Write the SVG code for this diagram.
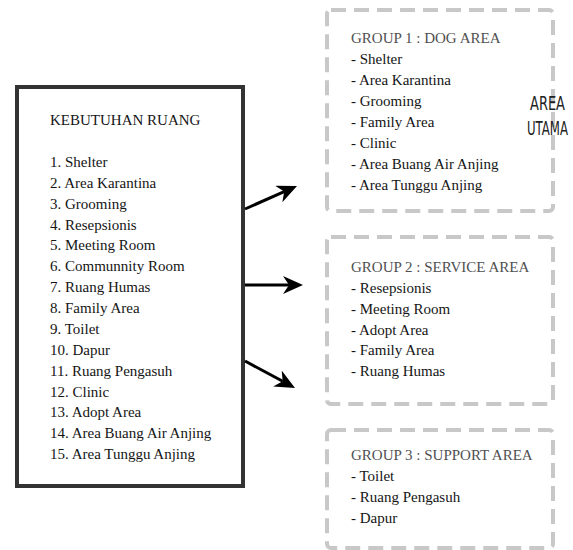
<svg xmlns="http://www.w3.org/2000/svg" width="573" height="550" viewBox="0 0 573 550">
<style>
text{font-family:"Liberation Serif","Times New Roman",serif;font-size:15px;fill:#151515}
.gt{fill:#505050}
.grp{fill:none;stroke:#c8c8c8;stroke-width:4;stroke-dasharray:15 8}
.conn{stroke:#000;stroke-width:3;fill:none;marker-end:url(#ah)}
.ut{font-family:"DejaVu Sans Condensed","DejaVu Sans",sans-serif;font-size:19px;fill:#222}
</style>
<defs>
<marker id="ah" markerUnits="userSpaceOnUse" markerWidth="20" markerHeight="18" viewBox="0 0 20 18" refX="6" refY="9" orient="auto">
<path d="M0,0 L20,9 L0,18 L6,9 z" fill="#000"/>
</marker>
</defs>
<g id="kebutuhan">
<rect x="17" y="87" width="226" height="399" fill="#fff" stroke="#333" stroke-width="4"/>
<text x="50" y="125">KEBUTUHAN RUANG</text>
<text x="50" y="167">1. Shelter</text>
<text x="50" y="188">2. Area Karantina</text>
<text x="50" y="209">3. Grooming</text>
<text x="50" y="230">4. Resepsionis</text>
<text x="50" y="250">5. Meeting Room</text>
<text x="50" y="271">6. Communnity Room</text>
<text x="50" y="292">7. Ruang Humas</text>
<text x="50" y="313">8. Family Area</text>
<text x="50" y="334">9. Toilet</text>
<text x="50" y="355">10. Dapur</text>
<text x="50" y="376">11. Ruang Pengasuh</text>
<text x="50" y="397">12. Clinic</text>
<text x="50" y="417">13. Adopt Area</text>
<text x="50" y="438">14. Area Buang Air Anjing</text>
<text x="50" y="459">15. Area Tunggu Anjing</text>
</g>
<g id="group1">
<rect class="grp" x="327" y="10" width="226" height="201" rx="4"/>
<text class="gt" x="351" y="43">GROUP 1 : DOG AREA</text>
<text x="351" y="64">- Shelter</text>
<text x="351" y="85">- Area Karantina</text>
<text x="351" y="106">- Grooming</text>
<text x="351" y="127">- Family Area</text>
<text x="351" y="148">- Clinic</text>
<text x="351" y="169">- Area Buang Air Anjing</text>
<text x="351" y="190">- Area Tunggu Anjing</text>
</g>
<g id="area-utama">
<text class="ut" x="530" y="110" textLength="35" lengthAdjust="spacingAndGlyphs">AREA</text>
<text class="ut" x="527" y="135" textLength="41" lengthAdjust="spacingAndGlyphs">UTAMA</text>
</g>
<g id="group2">
<rect class="grp" x="327" y="237" width="226" height="167" rx="4"/>
<text class="gt" x="351" y="272">GROUP 2 : SERVICE AREA</text>
<text x="351" y="293">- Resepsionis</text>
<text x="351" y="314">- Meeting Room</text>
<text x="351" y="335">- Adopt Area</text>
<text x="351" y="355">- Family Area</text>
<text x="351" y="376">- Ruang Humas</text>
</g>
<g id="group3">
<rect class="grp" x="327" y="430" width="226" height="118" rx="4"/>
<text class="gt" x="351" y="460">GROUP 3 : SUPPORT AREA</text>
<text x="351" y="481">- Toilet</text>
<text x="351" y="502">- Ruang Pengasuh</text>
<text x="351" y="523">- Dapur</text>
</g>
<g id="connectors">
<line class="conn" x1="245" y1="209" x2="284.2" y2="191.6"/>
<line class="conn" x1="245" y1="285" x2="289" y2="285"/>
<line class="conn" x1="245" y1="361" x2="282.7" y2="381.3"/>
</g>
</svg>
